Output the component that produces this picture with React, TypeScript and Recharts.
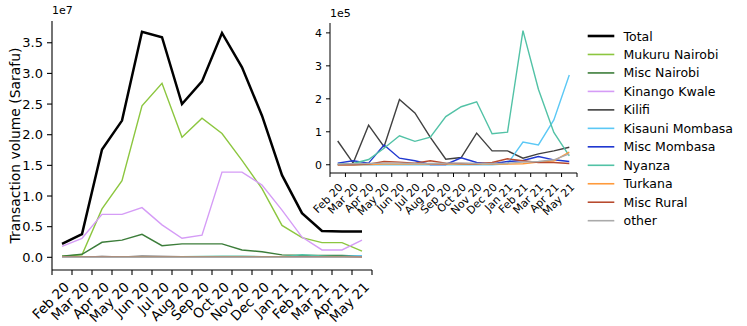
import { Label, Line, LineChart, XAxis, YAxis } from "recharts";

const months = [
  "Feb 20", "Mar 20", "Apr 20", "May 20", "Jun 20", "Jul 20", "Aug 20", "Sep 20",
  "Oct 20", "Nov 20", "Dec 20", "Jan 21", "Feb 21", "Mar 21", "Apr 21", "May 21",
];

// large series, units of 1e7
const total = [0.22, 0.38, 1.76, 2.23, 3.68, 3.59, 2.5, 2.87, 3.66, 3.1, 2.31, 1.34, 0.72, 0.43, 0.42, 0.42];
const mukuruNairobi = [0.02, 0.04, 0.79, 1.25, 2.47, 2.84, 1.96, 2.27, 2.02, 1.58, 1.12, 0.52, 0.32, 0.24, 0.24, 0.1];
const miscNairobi = [0.02, 0.05, 0.245, 0.28, 0.375, 0.19, 0.22, 0.22, 0.22, 0.12, 0.09, 0.04, 0.03, 0.03, 0.03, 0.02];
const kinangoKwale = [0.18, 0.31, 0.7, 0.7, 0.81, 0.53, 0.31, 0.36, 1.39, 1.39, 1.18, 0.77, 0.33, 0.12, 0.12, 0.28];

// small series, units of 1e5
const kilifi = [0.72, 0.05, 1.2, 0.55, 1.98, 1.57, 0.83, 0.17, 0.22, 0.96, 0.42, 0.42, 0.2, 0.33, 0.42, 0.53];
const kisauniMombasa = [0, 0, 0, 0, 0, 0, 0, 0, 0, 0, 0, 0.03, 0.69, 0.6, 1.36, 2.72];
const miscMombasa = [0.05, 0.12, 0.05, 0.6, 0.2, 0.12, 0.01, 0.01, 0.21, 0.07, 0.03, 0.1, 0.13, 0.25, 0.15, 0.1];
const nyanza = [0.02, 0.04, 0.16, 0.5, 0.88, 0.71, 0.84, 1.46, 1.76, 1.91, 0.94, 0.99, 4.07, 2.29, 0.98, 0.27];
const turkana = [0, 0, 0.01, 0.02, 0.02, 0.02, 0.02, 0.02, 0.02, 0.02, 0.02, 0.02, 0.03, 0.08, 0.12, 0.38];
const miscRural = [0, 0, 0.02, 0.1, 0.08, 0.05, 0.12, 0.05, 0.04, 0.03, 0.07, 0.18, 0.12, 0.07, 0.07, 0.04];
const other = [0.02, 0.03, 0.04, 0.05, 0.05, 0.04, 0.04, 0.05, 0.05, 0.04, 0.04, 0.05, 0.08, 0.1, 0.15, 0.33];

const mainTicks = [0, 0.5, 1, 1.5, 2, 2.5, 3, 3.5];
const insetTicks = [0, 1, 2, 3, 4];

const FONT = "DejaVu Sans";

// unit: 7 -> values given in 1e7, 5 -> values given in 1e5
const series = [
  { key: "total", name: "Total", color: "#000000", width: 2.5, values: total, unit: 7 },
  { key: "mukuru", name: "Mukuru Nairobi", color: "#8cc63f", width: 1.4, values: mukuruNairobi, unit: 7 },
  { key: "miscNai", name: "Misc Nairobi", color: "#3c7d3a", width: 1.4, values: miscNairobi, unit: 7 },
  { key: "kinango", name: "Kinango Kwale", color: "#d59cf6", width: 1.4, values: kinangoKwale, unit: 7 },
  { key: "kilifi", name: "Kilifi", color: "#404040", width: 1.4, values: kilifi, unit: 5 },
  { key: "kisauni", name: "Kisauni Mombasa", color: "#5bc8f5", width: 1.4, values: kisauniMombasa, unit: 5 },
  { key: "miscMom", name: "Misc Mombasa", color: "#2038d0", width: 1.4, values: miscMombasa, unit: 5 },
  { key: "nyanza", name: "Nyanza", color: "#52c2a6", width: 1.4, values: nyanza, unit: 5 },
  { key: "turkana", name: "Turkana", color: "#ff9a3c", width: 1.4, values: turkana, unit: 5 },
  { key: "miscRural", name: "Misc Rural", color: "#b84a2e", width: 1.4, values: miscRural, unit: 5 },
  { key: "other", name: "other", color: "#aaaaaa", width: 1.4, values: other, unit: 5 },
];
const insetSeries = series.filter((s) => s.unit === 5);

const xTicks = [-0.5, ...months.map((_, i) => i + 0.5)];

// main chart in 1e7 units, inset in 1e5 units
const mainData = months.map((m, i) => {
  const row: Record<string, number | string> = { i, month: m };
  series.forEach((s) => {
    row[s.key] = s.unit === 7 ? s.values[i] : s.values[i] / 100;
  });
  return row;
});
const insetData = months.map((m, i) => {
  const row: Record<string, number | string> = { i, month: m };
  insetSeries.forEach((s) => {
    row[s.key] = s.values[i];
  });
  return row;
});

// rotated month label, anchored at its end on the tick (ha="right", rotation=45)
function MonthTick({ x, y, payload, fontSize, ox, oy }: any) {
  const idx = Math.round(payload.value - 0.5);
  const label = months[idx];
  if (!label) return null;
  const tx = x + ox;
  const ty = y + oy;
  return (
    <text
      x={tx}
      y={ty}
      textAnchor="end"
      fontSize={fontSize}
      fontFamily={FONT}
      fill="#000"
      transform={`rotate(-45 ${tx} ${ty})`}
    >
      {label}
    </text>
  );
}

function Legend() {
  return (
    <svg width={160} height={220} style={{ position: "absolute", left: 580, top: 20 }}>
      {series.map((s, k) => {
        const cy = 16 + k * 18.47;
        return (
          <g key={s.key}>
            <line x1={7.7} x2={34.3} y1={cy} y2={cy} stroke={s.color} strokeWidth={s.key === "total" ? 2.6 : 1.6} />
            <text x={43.5} y={cy + 4.5} fontSize={12.5} fontFamily={FONT} fill="#000">
              {s.name}
            </text>
          </g>
        );
      })}
    </svg>
  );
}

export default function App() {
  return (
    <div style={{ position: "relative", width: 747, height: 326, background: "#fff", fontFamily: FONT }}>
      <style>{"body{margin:0}"}</style>
      <div style={{ position: "absolute", left: 0, top: 0 }}>
        <LineChart
          width={382}
          height={326}
          data={mainData}
          margin={{ top: 21, right: 10, bottom: 0, left: 0 }}
          accessibilityLayer={false}
        >
          <XAxis
            type="number"
            dataKey="i"
            domain={[-0.5, 15.5]}
            ticks={xTicks}
            interval={0}
            allowDataOverflow
            height={56}
            tickSize={5}
            tickMargin={0}
            axisLine={{ stroke: "#000", strokeWidth: 1.1 }}
            tickLine={{ stroke: "#000", strokeWidth: 1.1 }}
            tick={<MonthTick fontSize={13.5} ox={-2} oy={13} />}
          />
          <YAxis
            type="number"
            domain={[-0.207, 3.855]}
            ticks={mainTicks}
            allowDataOverflow
            width={52}
            tickSize={5}
            tickMargin={4}
            axisLine={{ stroke: "#000", strokeWidth: 1.1 }}
            tickLine={{ stroke: "#000", strokeWidth: 1.1 }}
            tick={{ fill: "#000", fontSize: 13, fontFamily: FONT }}
            tickFormatter={(v: number) => v.toFixed(1)}
          >
            <Label
              value="Transaction volume (Sarafu)"
              angle={-90}
              position="center"
              dx={-11}
              style={{ fontSize: 13.9, fontFamily: FONT, fill: "#000" }}
            />
          </YAxis>
          {series.map((s) => (
            <Line
              key={s.key}
              type="linear"
              dataKey={s.key}
              stroke={s.color}
              strokeWidth={s.width}
              dot={false}
              activeDot={false}
              isAnimationActive={false}
            />
          ))}
        </LineChart>
        <div style={{ position: "absolute", left: 52, top: 4, fontSize: 11, fontFamily: FONT }}>1e7</div>
      </div>

      <div style={{ position: "absolute", left: 290, top: 0 }}>
        <LineChart
          width={297}
          height={218}
          data={insetData}
          margin={{ top: 23, right: 10, bottom: 0, left: 0 }}
          accessibilityLayer={false}
        >
          <XAxis
            type="number"
            dataKey="i"
            domain={[-0.5, 15.5]}
            ticks={xTicks}
            interval={0}
            allowDataOverflow
            height={45}
            tickSize={4}
            tickMargin={0}
            axisLine={{ stroke: "#000", strokeWidth: 1 }}
            tickLine={{ stroke: "#000", strokeWidth: 1 }}
            tick={<MonthTick fontSize={10.8} ox={-2} oy={11} />}
          />
          <YAxis
            type="number"
            domain={[-0.25, 4.3]}
            ticks={insetTicks}
            allowDataOverflow
            width={40}
            tickSize={4}
            tickMargin={4}
            axisLine={{ stroke: "#000", strokeWidth: 1 }}
            tickLine={{ stroke: "#000", strokeWidth: 1 }}
            tick={{ fill: "#000", fontSize: 11, fontFamily: FONT }}
          />
          {insetSeries.map((s) => (
            <Line
              key={s.key}
              type="linear"
              dataKey={s.key}
              stroke={s.color}
              strokeWidth={1.4}
              dot={false}
              activeDot={false}
              isAnimationActive={false}
            />
          ))}
        </LineChart>
        <div style={{ position: "absolute", left: 40, top: 7, fontSize: 11, fontFamily: FONT }}>1e5</div>
      </div>

      <Legend />
    </div>
  );
}
